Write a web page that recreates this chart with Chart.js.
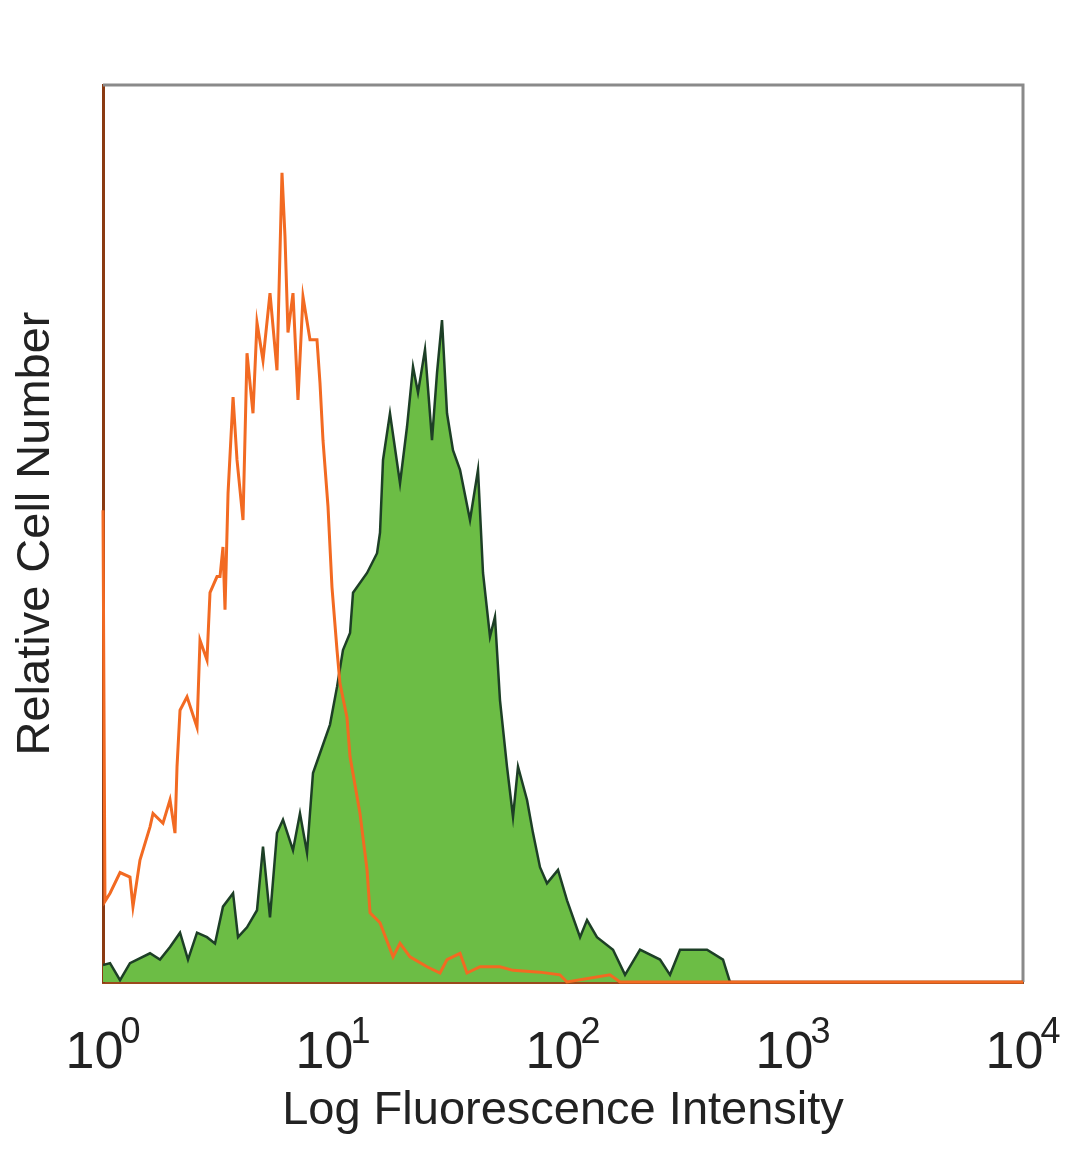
<!DOCTYPE html>
<html>
<head>
<meta charset="utf-8">
<script src="https://cdn.jsdelivr.net/npm/chart.js@4/dist/chart.umd.min.js"></script>
<style>
  html, body { margin: 0; padding: 0; background: #fff; }
  #wrap { width: 1080px; height: 1169px; }
</style>
</head>
<body>
<div id="wrap"><canvas id="histChart" width="1080" height="1169"></canvas></div>
<script>
// [intensity, relative count]
const isotypeCounts = [
  [1.0, 52.6], [1.02, 9.0], [1.073, 9.9], [1.186, 12.2], [1.31, 11.7], [1.35, 8.4], [1.448, 13.6],
  [1.601, 17.3], [1.65, 18.8], [1.823, 17.7], [1.956, 20.3], [2.056, 16.6], [2.098, 24.0], [2.162, 30.3],
  [2.319, 31.8], [2.563, 28.4], [2.641, 38.1], [2.832, 35.9], [2.919, 43.4], [3.131, 45.2], [3.227, 45.2],
  [3.324, 48.5], [3.392, 41.5], [3.497, 54.5], [3.677, 65.2], [3.825, 58.2], [4.062, 51.5], [4.228, 70.1],
  [4.489, 63.4], [4.673, 73.5], [4.962, 69.3], [5.322, 76.8], [5.707, 68.2], [6.001, 90.2], [6.184, 83.1],
  [6.372, 72.4], [6.7, 76.8], [7.043, 64.9], [7.405, 76.4], [7.943, 71.6], [8.518, 71.6], [8.778, 66.8],
  [9.046, 60.4], [9.512, 53.0], [9.9, 44.0], [10.41, 37.0], [10.72, 33.3], [11.5, 29.5], [11.86, 25.1],
  [13.1, 18.8], [14.06, 12.5], [14.49, 7.7], [16.01, 6.6], [18.24, 2.8], [19.56, 4.3], [21.62, 2.8],
  [25.63, 1.7], [29.19, 1.0], [31.31, 2.5], [35.67, 3.2], [38.24, 1.0], [43.57, 1.7], [53.22, 1.7],
  [60.62, 1.3], [79.43, 1.1], [97.0, 0.8], [104, 0], [160, 0.8], [177, 0], [10000, 0]
];

const stainedCounts = [
  [1.0, 1.9], [1.073, 2.1], [1.186, 0.2], [1.31, 2.1], [1.601, 3.2], [1.769, 2.5], [1.956, 3.9],
  [2.162, 5.5], [2.342, 2.5], [2.563, 5.5], [2.832, 5.0], [3.069, 4.3], [3.324, 8.4], [3.677, 9.9],
  [3.864, 5.0], [4.228, 6.1], [4.673, 8.0], [4.962, 15.1], [5.322, 7.2], [5.707, 16.6], [6.061, 18.1],
  [6.7, 14.7], [7.185, 18.8], [7.709, 14.4], [8.185, 23.3], [8.778, 25.5], [9.705, 28.7], [10.41, 32.9],
  [11.05, 37.0], [11.86, 38.9], [12.22, 43.4], [14.06, 45.6], [15.54, 47.8], [16.01, 50.1], [16.5, 58.2],
  [17.69, 63.4], [19.56, 55.6], [20.98, 61.9], [22.28, 68.6], [23.42, 65.7], [25.12, 70.5], [26.94, 60.4],
  [28.33, 67.9], [29.78, 73.8], [31.31, 63.4], [33.24, 59.3], [35.67, 57.1], [39.42, 51.5], [42.7, 57.1],
  [44.9, 45.6], [48.15, 38.5], [50.61, 40.7], [53.22, 31.4], [57.08, 24.0], [60.62, 18.4], [63.74, 24.0],
  [69.76, 20.3], [74.07, 16.6], [79.43, 12.8], [85.18, 11.0], [95.12, 12.5], [104.1, 9.1], [118.6, 5.0],
  [127.2, 6.9], [140.5, 5.0], [165.0, 3.6], [186.1, 0.8], [216.2, 3.6], [264.1, 2.5], [291.9, 0.8],
  [322.7, 3.6], [422.8, 3.6], [496.2, 2.5], [532.2, 0], [10000, 0]
];

const tickValues = [1, 10, 100, 1000, 10000];
const tickBases = ['10', '10', '10', '10', '10'];
const tickExponents = ['0', '1', '2', '3', '4'];

const textFont = '"Liberation Sans", Arial, sans-serif';

// gray frame on top and right, like the cytometer plot box
const frameBox = {
  id: 'frameBox',
  beforeDatasetsDraw(chart) {
    const a = chart.chartArea;
    const ctx = chart.ctx;
    ctx.save();
    ctx.strokeStyle = '#8a8a8a';
    ctx.lineWidth = 3;
    ctx.beginPath();
    ctx.moveTo(a.left, a.top);
    ctx.lineTo(a.right, a.top);
    ctx.lineTo(a.right, a.bottom);
    ctx.stroke();
    ctx.restore();
  }
};

// decade labels written as 10 with a raised exponent
const powerLabels = {
  id: 'powerLabels',
  afterDraw(chart) {
    const xs = chart.scales.x;
    const ctx = chart.ctx;
    const base = chart.chartArea.bottom;
    ctx.save();
    ctx.fillStyle = '#222';
    ctx.textBaseline = 'alphabetic';
    ctx.textAlign = 'left';
    tickValues.forEach((v, i) => {
      const x = xs.getPixelForValue(v);
      ctx.font = '52px ' + textFont;
      const wb = ctx.measureText(tickBases[i]).width;
      ctx.font = '36px ' + textFont;
      const we = ctx.measureText(tickExponents[i]).width;
      const start = x - (wb + we - 3) / 2;
      ctx.font = '52px ' + textFont;
      ctx.fillText(tickBases[i], start, base + 86);
      ctx.font = '36px ' + textFont;
      ctx.fillText(tickExponents[i], start + wb - 3, base + 61);
    });
    ctx.restore();
  }
};

const ctx = document.getElementById('histChart').getContext('2d');
new Chart(ctx, {
  type: 'line',
  data: {
    datasets: [
      {
        label: 'Isotype',
        data: isotypeCounts.map(p => ({ x: p[0], y: p[1] })),
        borderColor: '#f26a22',
        borderWidth: 3,
        fill: false,
        pointRadius: 0,
        tension: 0,
        clip: false,
        order: 0
      },
      {
        label: 'Stained',
        data: stainedCounts.map(p => ({ x: p[0], y: p[1] })),
        borderColor: '#1d3f26',
        backgroundColor: '#6cbd45',
        borderWidth: 2.5,
        fill: 'origin',
        pointRadius: 0,
        tension: 0,
        order: 1
      }
    ]
  },
  options: {
    responsive: false,
    animation: false,
    events: [],
    layout: { padding: { top: 85, right: 57, bottom: 0, left: 0 } },
    plugins: { legend: { display: false }, tooltip: { enabled: false } },
    scales: {
      x: {
        type: 'logarithmic',
        min: 1,
        max: 10000,
        afterBuildTicks: scale => { scale.ticks = tickValues.map(v => ({ value: v })); },
        afterFit: scale => { scale.height = 1169 - 982; },
        grid: { display: false, drawTicks: false },
        border: { display: true, color: '#9a4a1c', width: 3 },
        ticks: { display: false },
        title: {
          display: true,
          text: 'Log Fluorescence Intensity',
          color: '#222',
          font: { family: textFont, size: 47 },
          padding: { top: 0, bottom: 30 }
        }
      },
      y: {
        min: 0,
        max: 100,
        afterFit: scale => { scale.width = 103; },
        grid: { display: false, drawTicks: false },
        border: { display: true, color: '#8a3a12', width: 3 },
        ticks: { display: false },
        title: {
          display: true,
          text: 'Relative Cell Number',
          color: '#222',
          font: { family: textFont, size: 47 },
          padding: { top: 8, bottom: 0 }
        }
      }
    }
  },
  plugins: [frameBox, powerLabels]
});
</script>
</body>
</html>
